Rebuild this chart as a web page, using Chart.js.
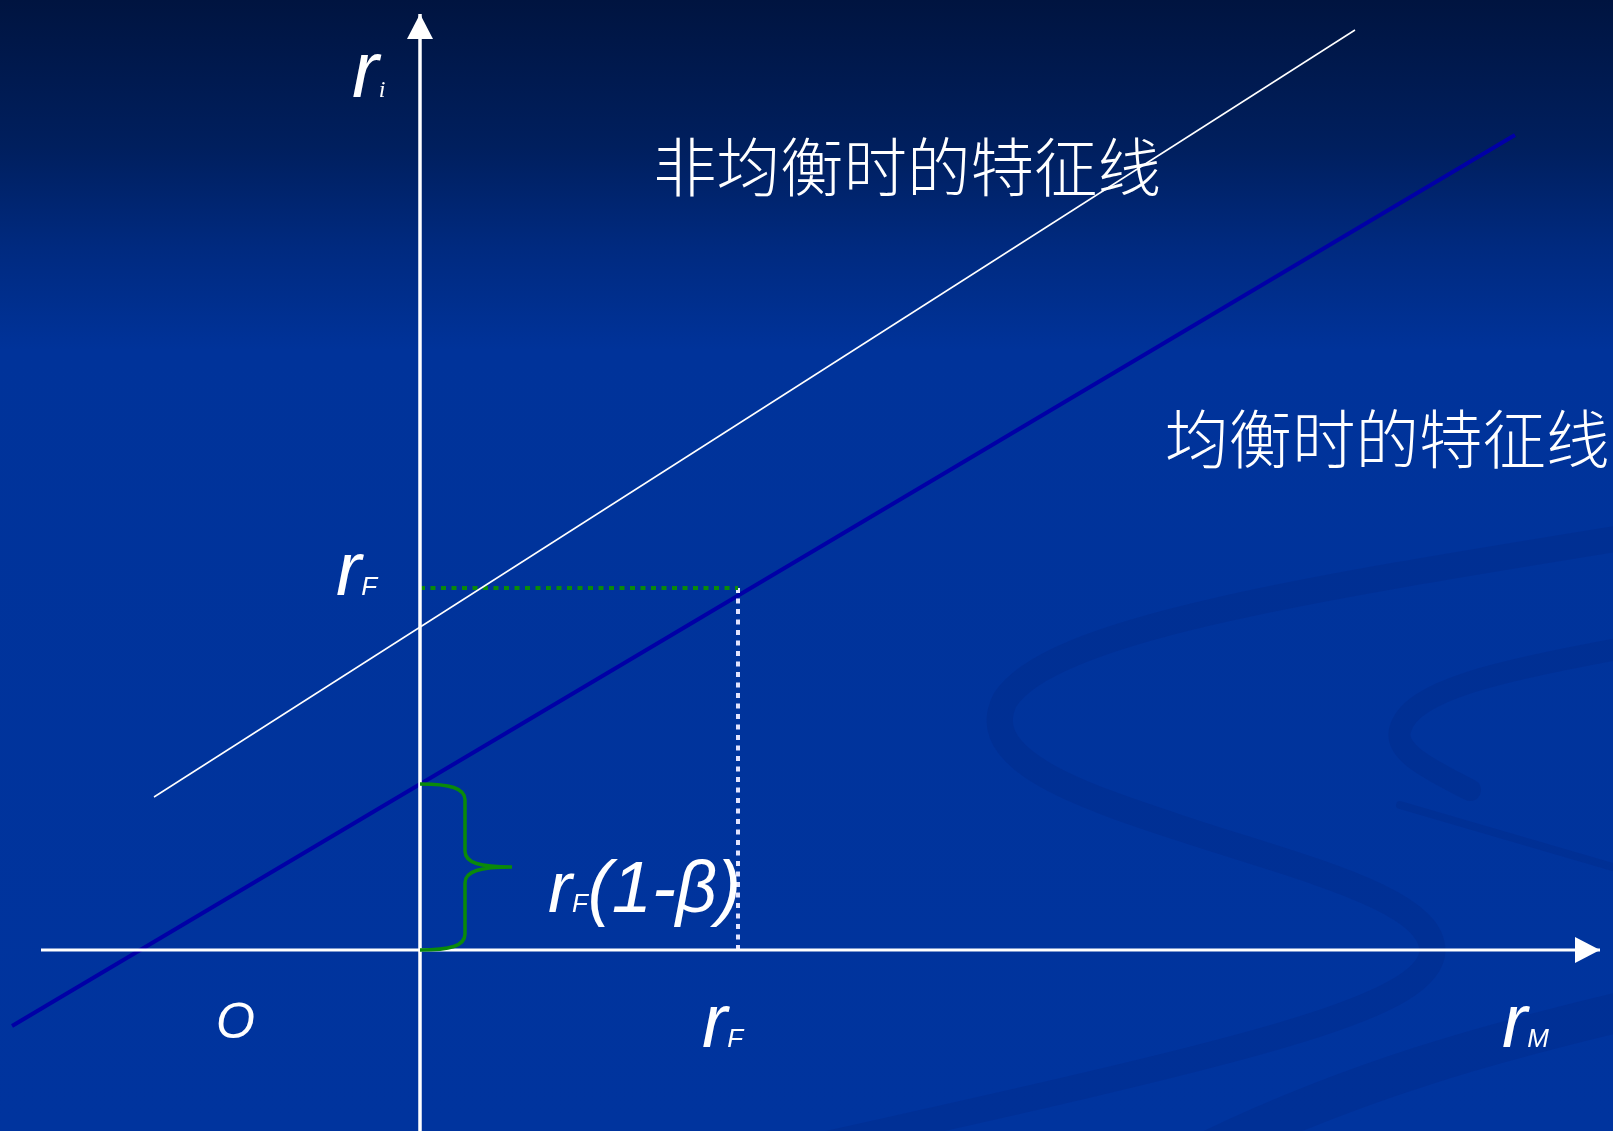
<!DOCTYPE html>
<html lang="zh">
<head>
<meta charset="utf-8">
<title>特征线</title>
<script src="https://cdn.jsdelivr.net/npm/chart.js@4.4.1/dist/chart.umd.min.js"></script>
<style>
  html, body { margin: 0; padding: 0; background: #00339c; overflow: hidden; }
  #wrap { position: relative; width: 1613px; height: 1131px; }
</style>
</head>
<body>
<div id="wrap"><canvas id="tezhengChart"></canvas></div>
<script>
// chart units: origin where the two axes cross
const xRange = [-4.20, 11.93];
const yRange = [-1.81, 9.50];

const axisX = [-3.79, 11.80];   // r_M axis, arrow at the end
const axisY = [-1.81, 9.36];    // r_i axis, arrow at the end

const equilibriumX = [-4.08, 10.95];
const equilibriumY = [-0.76, 8.15];
const disequilibriumX = [-2.66, 9.35];
const disequilibriumY = [1.53, 9.20];

const rfX = 3.18;        // r_F on the market axis
const rfY = 3.62;        // r_F on the asset axis
const interceptY = 1.66; // r_F(1-β)

const mathLabels = [
  { x: -0.68, y: 8.53, parts: [['r', 80], ['i', 24, 'serif']] },
  { x: -0.84, y: 3.55, parts: [['r', 76], ['F', 26]] },
  { x: -2.04, y: -0.88, parts: [['O', 50]] },
  { x: 2.82, y: -0.97, parts: [['r', 76], ['F', 26]] },
  { x: 10.82, y: -0.97, parts: [['r', 76], ['M', 26]] },
  { x: 1.28, y: 0.38, parts: [['r', 72], ['F', 26], ['(1-β)', 72]] }
];
const captions = [
  { x: 2.33, y: 7.83, text: '非均衡时的特征线' },
  { x: 7.45, y: 5.11, text: '均衡时的特征线' }
];

const pts = (xs, ys) => xs.map((x, i) => ({ x: x, y: ys[i] }));

// background gradient + faint swirl of the slide template
const slideBackground = {
  id: 'slideBackground',
  beforeDraw(chart) {
    const { ctx, width, height } = chart;
    ctx.save();
    const g = ctx.createLinearGradient(0, 0, 0, height);
    g.addColorStop(0, '#001440');
    g.addColorStop(0.13, '#001f5e');
    g.addColorStop(0.22, '#002a80');
    g.addColorStop(0.31, '#00339a');
    g.addColorStop(1, '#00349e');
    ctx.fillStyle = g;
    ctx.fillRect(0, 0, width, height);

    ctx.strokeStyle = 'rgba(0, 30, 110, 0.17)';
    ctx.lineCap = 'round';
    ctx.lineWidth = 26;
    ctx.beginPath();
    ctx.moveTo(1640, 535);
    ctx.bezierCurveTo(1300, 590, 1050, 630, 1005, 700);
    ctx.bezierCurveTo(975, 760, 1080, 795, 1180, 828);
    ctx.bezierCurveTo(1300, 868, 1440, 900, 1432, 955);
    ctx.bezierCurveTo(1420, 1010, 1250, 1050, 800, 1150);
    ctx.stroke();

    ctx.lineWidth = 22;
    ctx.beginPath();
    ctx.moveTo(1640, 645);
    ctx.bezierCurveTo(1500, 670, 1410, 690, 1400, 730);
    ctx.bezierCurveTo(1395, 750, 1420, 765, 1470, 790);
    ctx.stroke();

    ctx.lineWidth = 8;
    ctx.beginPath();
    ctx.moveTo(1400, 805);
    ctx.lineTo(1640, 875);
    ctx.stroke();

    ctx.lineWidth = 40;
    ctx.beginPath();
    ctx.moveTo(1190, 1160);
    ctx.bezierCurveTo(1350, 1080, 1500, 1040, 1650, 1005);
    ctx.stroke();
    ctx.restore();
  }
};

// arrows, brace and text
const annotations = {
  id: 'annotations',
  afterDatasetsDraw(chart) {
    const { ctx } = chart;
    const xs = chart.scales.x, ys = chart.scales.y;
    const px = v => xs.getPixelForValue(v);
    const py = v => ys.getPixelForValue(v);
    ctx.save();

    // arrowheads
    ctx.fillStyle = '#ffffff';
    const tx = px(axisX[1]), ty = py(0);
    ctx.beginPath();
    ctx.moveTo(tx, ty);
    ctx.lineTo(tx - 25, ty - 13);
    ctx.lineTo(tx - 25, ty + 13);
    ctx.closePath();
    ctx.fill();
    const ux = px(0), uy = py(axisY[1]);
    ctx.beginPath();
    ctx.moveTo(ux, uy);
    ctx.lineTo(ux - 13, uy + 25);
    ctx.lineTo(ux + 13, uy + 25);
    ctx.closePath();
    ctx.fill();

    // brace for r_F(1-β)
    const bx = px(0), top = py(interceptY), bot = py(0);
    const mid = (top + bot) / 2;
    ctx.strokeStyle = '#0a8a0a';
    ctx.lineWidth = 3.5;
    ctx.beginPath();
    ctx.moveTo(bx, top);
    ctx.bezierCurveTo(bx + 30, top, bx + 45, top + 4, bx + 45, top + 16);
    ctx.lineTo(bx + 45, mid - 16);
    ctx.bezierCurveTo(bx + 45, mid - 4, bx + 60, mid, bx + 92, mid);
    ctx.bezierCurveTo(bx + 60, mid, bx + 45, mid + 4, bx + 45, mid + 16);
    ctx.lineTo(bx + 45, bot - 16);
    ctx.bezierCurveTo(bx + 45, bot - 4, bx + 30, bot, bx, bot);
    ctx.stroke();

    // math labels
    ctx.fillStyle = '#ffffff';
    ctx.textBaseline = 'alphabetic';
    ctx.textAlign = 'left';
    mathLabels.forEach(l => {
      let x = px(l.x);
      const y = py(l.y);
      l.parts.forEach(([t, size, fam]) => {
        ctx.font = 'italic ' + size + 'px ' +
          (fam === 'serif' ? '"Liberation Serif", serif' : '"Liberation Sans", Arial, sans-serif');
        ctx.fillText(t, x, y);
        x += ctx.measureText(t).width;
      });
    });

    ctx.textBaseline = 'middle';
    ctx.font = '300 63.5px "Noto Sans CJK SC", sans-serif';
    captions.forEach(c => ctx.fillText(c.text, px(c.x), py(c.y)));
    ctx.restore();
  }
};

const ctx = document.getElementById('tezhengChart').getContext('2d');

new Chart(ctx, {
  type: 'scatter',
  data: {
    datasets: [
      {
        label: 'r_M axis',
        data: pts(axisX, [0, 0]),
        borderColor: '#ffffff',
        borderWidth: 3
      },
      {
        label: 'r_i axis',
        data: pts([0, 0], axisY),
        borderColor: '#ffffff',
        borderWidth: 3.5
      },
      {
        label: '非均衡时的特征线',
        data: pts(disequilibriumX, disequilibriumY),
        borderColor: '#ffffff',
        borderWidth: 1.5
      },
      {
        label: 'r_F level',
        data: pts([0, rfX], [rfY, rfY]),
        borderColor: '#0a8a0a',
        borderWidth: 4,
        borderDash: [5, 5.5]
      },
      {
        label: 'r_F drop',
        data: pts([rfX, rfX], [rfY, 0]),
        borderColor: '#e4e4ff',
        borderWidth: 4,
        borderDash: [5, 5.5]
      },
      {
        label: '均衡时的特征线',
        data: pts(equilibriumX, equilibriumY),
        borderColor: '#0000a6',
        borderWidth: 4
      }
    ]
  },
  options: {
    responsive: true,
    maintainAspectRatio: false,
    animation: false,
    layout: { padding: 0 },
    datasets: {
      scatter: { showLine: true, pointRadius: 0, pointHoverRadius: 0, fill: false }
    },
    scales: {
      x: { type: 'linear', min: xRange[0], max: xRange[1], display: false },
      y: { type: 'linear', min: yRange[0], max: yRange[1], display: false }
    },
    plugins: {
      legend: { display: false },
      tooltip: { enabled: false }
    }
  },
  plugins: [slideBackground, annotations]
});
</script>
</body>
</html>
